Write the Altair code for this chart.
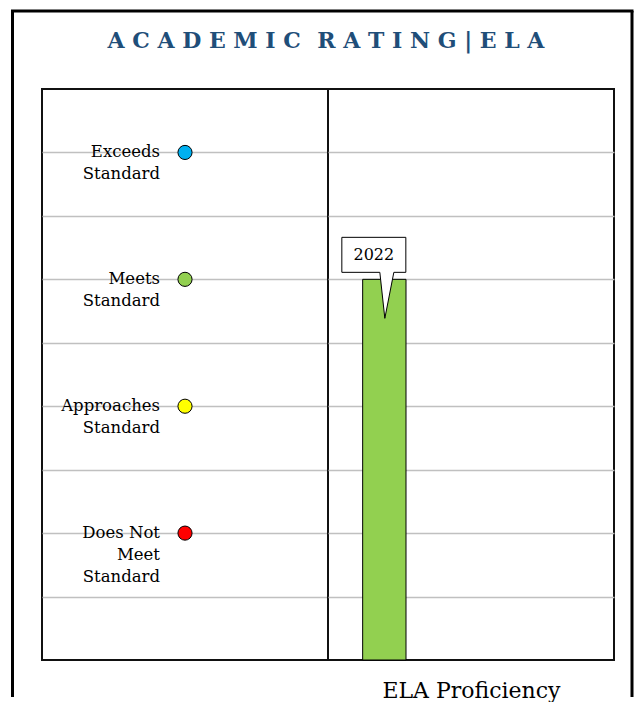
import altair as alt
import pandas as pd

# ---- data ----
rating_labels = ["Does Not\nMeet\nStandard", "Approaches\nStandard", "Meets\nStandard", "Exceeds\nStandard"]
rating_levels = [2, 4, 6, 8]
rating_colors = ["#ff0000", "#ffff00", "#92d050", "#00b0f0"]

years = ["2022"]
year_slots = ["2022", "2023", "2024", "2025"]
year_values = [6]           # Meets Standard
year_colors = ["#92d050"]

grid_values = [1, 2, 3, 4, 5, 6, 7, 8]
title_words = ["ACADEMIC", "RATING|ELA"]
chart_title = "\u00a0\u2009\u2009".join("\u00a0".join(w) for w in title_words)
x_title = "ELA Proficiency"

FONT = "DejaVu Serif"
W, H = 286, 571

ratings = pd.DataFrame({
    "panel": ["Rating"] * len(rating_levels),
    "label": rating_labels,
    "level": rating_levels,
    "color": rating_colors,
})
bars = pd.DataFrame({"year": years, "value": year_values, "color": year_colors})
one = pd.DataFrame({"k": [0]})

yscale = alt.Scale(domain=[0, 9], nice=False, zero=True)
yaxis = alt.Axis(values=grid_values, grid=True, gridColor="#c0c0c0", gridWidth=1.5,
                 labels=False, ticks=False, domain=False, title=None)

# ---- left panel: rating legend ----
dots = alt.Chart(ratings).mark_circle(size=200, opacity=1, stroke="black", strokeWidth=1).encode(
    x=alt.X("panel:N", axis=None),
    y=alt.Y("level:Q", scale=yscale, axis=yaxis),
    fill=alt.Fill("color:N", scale=None),
)
labels = alt.Chart(ratings).mark_text(
    align="right", baseline="middle", dx=-25, font=FONT, fontSize=16.5,
    lineBreak="\n", lineHeight=22, color="black",
).encode(
    x=alt.X("panel:N", axis=None),
    y=alt.Y("level:Q", scale=yscale),
    text="label:N",
)

TOP, BOT, LFT, RGT = -78, 608, -29.5, 590
frame_left = alt.Chart(one).mark_rule(color="black", strokeWidth=3).encode(
    x=alt.value(LFT), y=alt.value(TOP), y2=alt.value(BOT))
frame_top = alt.Chart(one).mark_rule(color="black", strokeWidth=3).encode(
    x=alt.value(LFT - 1.5), x2=alt.value(RGT + 1.5), y=alt.value(TOP))
frame_right = alt.Chart(one).mark_rule(color="black", strokeWidth=3).encode(
    x=alt.value(RGT), y=alt.value(TOP), y2=alt.value(BOT))
title = alt.Chart(one).mark_text(
    font=FONT, fontSize=22, fontWeight="bold", color="#1f4e79",
    align="center", baseline="middle",
).encode(x=alt.value(284), y=alt.value(-48), text=alt.value(chart_title))

left = alt.layer(frame_left, frame_top, frame_right, title, dots, labels).properties(width=W, height=H)

# ---- right panel: ELA bar ----
xenc = alt.X("year:N", scale=alt.Scale(domain=year_slots, paddingInner=0.25, paddingOuter=0.6),
             axis=alt.Axis(labels=False, ticks=False, domain=False, title=x_title,
                           titleFont=FONT, titleFontSize=22, titleFontWeight="normal",
                           titleColor="black", titlePadding=20))
bar = alt.Chart(bars).mark_bar(stroke="black", strokeWidth=1, opacity=1).encode(
    x=xenc,
    y=alt.Y("value:Q", scale=yscale, axis=yaxis),
    fill=alt.Fill("color:N", scale=None),
)
callout_path = "M -0.85 -0.84 L 0.43 -0.84 L 0.43 -0.14 L 0.19 -0.14 L 0.01 0.78 L -0.09 -0.14 L -0.85 -0.14 Z"
callout = alt.Chart(bars).mark_point(
    shape=callout_path, size=10000, filled=True, fill="white", stroke="black",
    strokeWidth=1, opacity=1,
).encode(x=alt.X("year:N"), y=alt.Y("value:Q", scale=yscale))
callout_text = alt.Chart(bars).mark_text(
    font=FONT, fontSize=16, color="black", dx=-10.5, dy=-24, align="center", baseline="middle",
).encode(x=alt.X("year:N"), y=alt.Y("value:Q", scale=yscale), text="year:N")

right = alt.layer(bar, callout, callout_text).properties(width=W, height=H)

chart = alt.hconcat(left, right, spacing=0, bounds="flush").properties(
    padding={"left": 0, "top": 0, "right": 0, "bottom": 0},
).configure_view(stroke="#111111", strokeWidth=2)

chart.save("out.html", embed_options={"renderer": "svg", "actions": False})
